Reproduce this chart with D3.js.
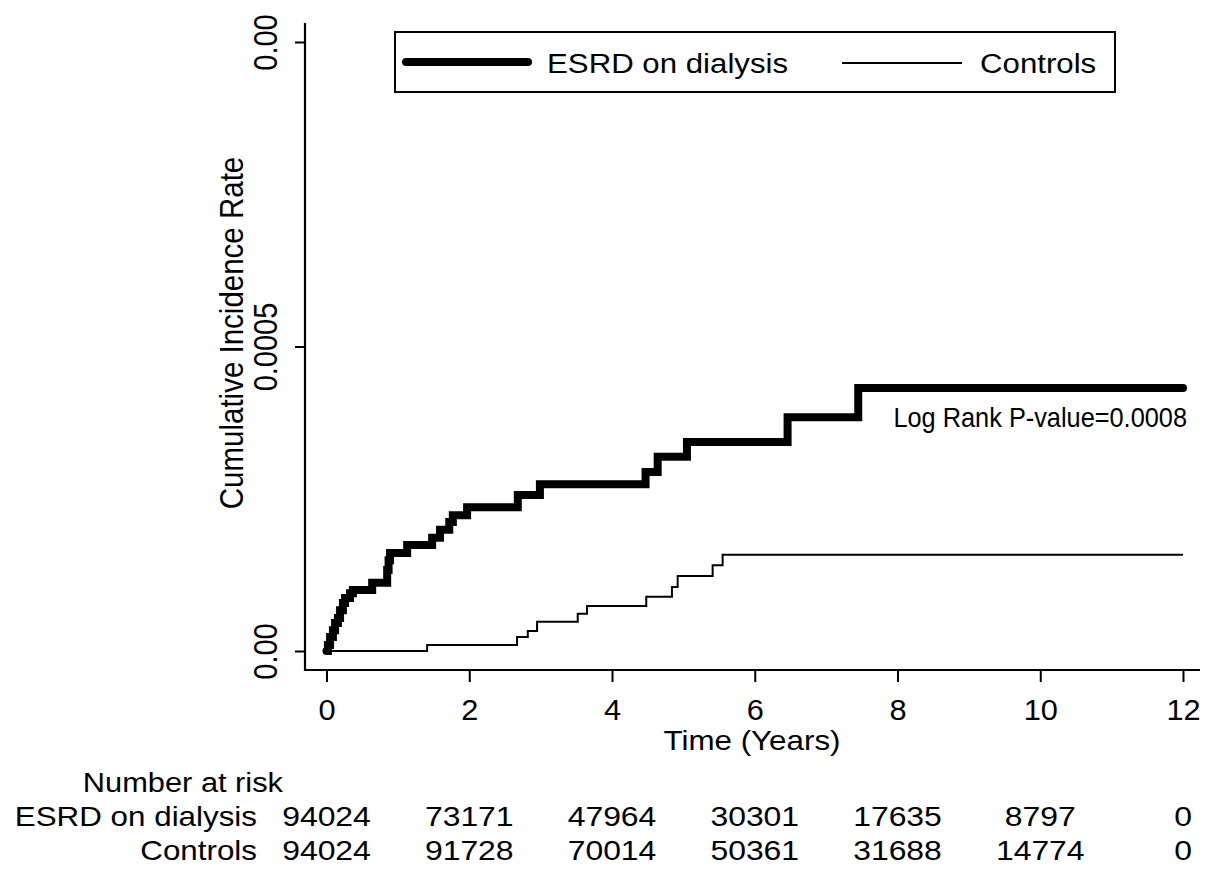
<!DOCTYPE html>
<html>
<head>
<meta charset="utf-8">
<script src="https://cdn.jsdelivr.net/npm/d3@7"></script>
<style>
  body { margin: 0; background: #fff; }
  svg { display: block; font-family: "Liberation Sans", Arial, sans-serif; }
</style>
</head>
<body>
<svg width="1214" height="869"></svg>
<script>
// step points: time (years) where the curve changes, and the level after it
let esrdTime = [0, 0.02, 0.05, 0.09, 0.12, 0.16, 0.19, 0.23, 0.26, 0.33, 0.37, 0.64, 0.85, 0.87, 0.89, 0.9, 1.13, 1.48, 1.59, 1.72, 1.77, 1.97, 2.68, 2.99, 4.47, 4.64, 5.05, 6.46, 7.45, 12];
let esrdRate = [0, 0.0000099, 0.000023, 0.000034, 0.000046, 0.000054, 0.000067, 0.000079, 0.000087, 0.000095, 0.0001, 0.000112, 0.000133, 0.000149, 0.000161, 0.000161, 0.000174, 0.000186, 0.000199, 0.000212, 0.000223, 0.000236, 0.000256, 0.000274, 0.000294, 0.000319, 0.000343, 0.000384, 0.000432, 0.000432];

let ctrlTime = [0, 1.41, 2.67, 2.82, 2.95, 3.52, 3.65, 4.48, 4.84, 4.92, 5.41, 5.55, 12];
let ctrlRate = [0, 0.00001, 0.000023, 0.000033, 0.000048, 0.000061, 0.000074, 0.000089, 0.000105, 0.000123, 0.000141, 0.000158, 0.000158];

let xTicks = [0, 2, 4, 6, 8, 10, 12];
let yTicks = [0, 0.0005, 0.001];
let yTickLabels = ["0.00", "0.0005", "0.00"];

let seriesNames = ["ESRD on dialysis", "Controls"];
let riskTimes = [0, 2, 4, 6, 8, 10, 12];
let esrdRisk = [94024, 73171, 47964, 30301, 17635, 8797, 0];
let ctrlRisk = [94024, 91728, 70014, 50361, 31688, 14774, 0];

let svg = d3.select("svg");

let x = d3.scaleLinear().domain([0, 12]).range([326.5, 1183]);
let y = d3.scaleLinear().domain([0, 0.001]).range([651, 42]);

// text in the reference is a bit wider than plain Arial
function hText(g, tx, ty, size, sx, anchor, str) {
  return g.append("text")
      .attr("transform", "translate(" + tx + "," + ty + ") scale(" + sx + ",1)")
      .attr("font-size", size)
      .attr("text-anchor", anchor)
      .attr("fill", "#000")
      .text(str);
}

// axis lines
svg.append("line").attr("x1", 305).attr("x2", 305).attr("y1", 23).attr("y2", 671)
    .attr("stroke", "#000").attr("stroke-width", 2.2);
svg.append("line").attr("x1", 304).attr("x2", 1200).attr("y1", 670).attr("y2", 670)
    .attr("stroke", "#000").attr("stroke-width", 2.2);

// y axis
let yAxis = svg.append("g")
    .attr("transform", "translate(305,0)")
    .call(d3.axisLeft(y).tickValues(yTicks).tickSize(10).tickFormat((d, i) => yTickLabels[i]));
yAxis.select(".domain").remove();
yAxis.selectAll(".tick line").attr("stroke-width", 2);
yAxis.selectAll(".tick text")
    .attr("x", null).attr("dy", null)
    .attr("transform", "translate(-28,0) rotate(-90) scale(1,1.12)")
    .attr("text-anchor", "middle")
    .attr("font-size", 29)
    .attr("font-family", null);

// x axis
let xAxis = svg.append("g")
    .attr("transform", "translate(0,670)")
    .call(d3.axisBottom(x).tickValues(xTicks).tickSize(12));
xAxis.select(".domain").remove();
xAxis.selectAll(".tick line").attr("stroke-width", 2);
xAxis.selectAll(".tick text")
    .attr("y", null).attr("dy", null)
    .attr("transform", "translate(0,50) scale(1.06,1)")
    .attr("font-size", 29)
    .attr("font-family", null);

// axis titles
svg.append("text")
    .attr("transform", "translate(243,333) rotate(-90) scale(1,1.12)")
    .attr("font-size", 29.5)
    .attr("text-anchor", "middle")
    .text("Cumulative Incidence Rate");
hText(svg, 752, 750, 28, 1.12, "middle", "Time (Years)");

// curves
let line = d3.line()
    .x(d => x(d[0]))
    .y(d => y(d[1]))
    .curve(d3.curveStepAfter);

svg.append("path")
    .datum(d3.zip(ctrlTime, ctrlRate))
    .attr("fill", "none")
    .attr("stroke", "#000")
    .attr("stroke-width", 2)
    .attr("d", line);

svg.append("path")
    .datum(d3.zip(esrdTime, esrdRate))
    .attr("fill", "none")
    .attr("stroke", "#000")
    .attr("stroke-width", 8)
    .attr("stroke-linecap", "round")
    .attr("d", line);

hText(svg, 1187, 427, 28, 0.905, "end", "Log Rank P-value=0.0008");

// legend
let legend = svg.append("g");
legend.append("rect")
    .attr("x", 395).attr("y", 32).attr("width", 720).attr("height", 60)
    .attr("fill", "none").attr("stroke", "#000").attr("stroke-width", 2);
legend.append("line").attr("x1", 406).attr("x2", 528).attr("y1", 62).attr("y2", 62)
    .attr("stroke", "#000").attr("stroke-width", 8).attr("stroke-linecap", "round");
hText(legend, 547, 73, 28, 1.115, "start", seriesNames[0]);
legend.append("line").attr("x1", 842).attr("x2", 962).attr("y1", 63).attr("y2", 63)
    .attr("stroke", "#000").attr("stroke-width", 2);
hText(legend, 980, 73, 28, 1.115, "start", seriesNames[1]);

// number at risk table
let table = svg.append("g");
hText(table, 283, 792, 28, 1.1, "end", "Number at risk");
let rows = [esrdRisk, ctrlRisk];
let rowY = [826, 860];
rows.forEach(function(r, i) {
  hText(table, 257, rowY[i], 28, 1.12, "end", seriesNames[i]);
  r.forEach(function(v, j) {
    hText(table, x(riskTimes[j]), rowY[i], 28, 1.14, "middle", v);
  });
});
</script>
</body>
</html>
